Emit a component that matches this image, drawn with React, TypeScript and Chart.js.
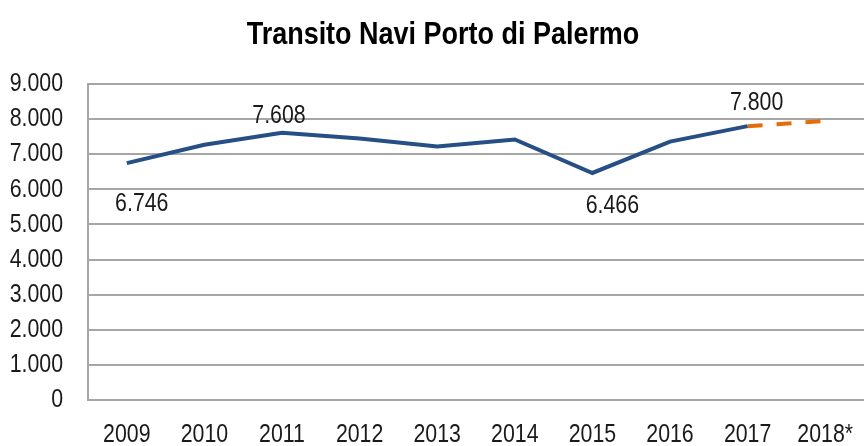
import React, { useEffect, useRef } from "react";
import { Chart, registerables } from "chart.js";

Chart.register(...registerables);

const categories = ["2009", "2010", "2011", "2012", "2013", "2014", "2015", "2016", "2017", "2018*"];
const actualValues = [6746, 7270, 7608, 7450, 7220, 7420, 6466, 7360, 7800, null];
const forecastValues = [null, null, null, null, null, null, null, null, 7800, 7945];
const yTicks = [0, 1000, 2000, 3000, 4000, 5000, 6000, 7000, 8000, 9000];
const titleText = "Transito Navi Porto di Palermo";
const labelIndices = [0, 2, 6, 8];
const labelOffsets = [
  [15, 41],
  [-3, -17],
  [20, 33],
  [9, -23],
];

const FONT = "'Liberation Sans', Arial, sans-serif";
const NARROW = 0.82;
const TITLE_NARROW = 0.87;
const TEXT_COLOR = "#1a1a1a";

const fmt = (v: number) => v.toLocaleString("de-DE");

function drawNarrow(ctx: CanvasRenderingContext2D, text: string, x: number, y: number, align: CanvasTextAlign, font: string, color: string, sx: number = NARROW) {
  ctx.save();
  ctx.translate(x, y);
  ctx.scale(sx, 1);
  ctx.font = font;
  ctx.fillStyle = color;
  ctx.textAlign = align;
  ctx.textBaseline = "middle";
  ctx.fillText(text, 0, 0);
  ctx.restore();
}

const textPlugin = {
  id: "narrowText",
  afterDraw(chart: any) {
    const ctx = chart.ctx as CanvasRenderingContext2D;
    const yScale = chart.scales.y;
    const xScale = chart.scales.x;
    const area = chart.chartArea;
    // title
    drawNarrow(ctx, titleText, 443, 35, "center", `bold 31px ${FONT}`, "#000", TITLE_NARROW);
    // y tick labels
    yTicks.forEach((v) => {
      drawNarrow(ctx, fmt(v), area.left - 25, yScale.getPixelForValue(v), "right", `26px ${FONT}`, TEXT_COLOR);
    });
    // x tick labels
    categories.forEach((c, i) => {
      drawNarrow(ctx, c, xScale.getPixelForValue(i), area.bottom + 35, "center", `26px ${FONT}`, TEXT_COLOR);
    });
    // data labels
    const meta = chart.getDatasetMeta(0);
    labelIndices.forEach((idx, i) => {
      const pt = meta.data[idx];
      const v = actualValues[idx] as number;
      drawNarrow(ctx, fmt(v), pt.x + labelOffsets[i][0], pt.y + labelOffsets[i][1], "center", `26px ${FONT}`, TEXT_COLOR);
    });
  },
};

export default function App() {
  const ref = useRef<HTMLCanvasElement>(null);
  useEffect(() => {
    document.body.style.margin = "0";
    const chart = new Chart(ref.current!, {
      type: "line",
      data: {
        labels: categories,
        datasets: [
          {
            data: actualValues,
            borderColor: "#254f85",
            borderWidth: 4,
            pointRadius: 0,
            tension: 0,
            spanGaps: false,
          },
          {
            data: forecastValues,
            borderColor: "#e46c0a",
            borderWidth: 4,
            borderDash: [15, 14],
            pointRadius: 0,
            tension: 0,
          },
        ],
      },
      options: {
        animation: false,
        responsive: false,
        layout: { padding: { left: 0, right: 0, top: 84, bottom: 46 } },
        plugins: {
          legend: { display: false },
          tooltip: { enabled: false },
          title: { display: false },
        },
        scales: {
          x: {
            offset: true,
            grid: { display: false, drawTicks: false },
            border: { display: false },
            ticks: { display: false },
          },
          y: {
            min: 0,
            max: 9000,
            ticks: { display: false, stepSize: 1000, autoSkip: false },
            afterFit(axis: any) {
              axis.width = 88;
            },
            grid: { color: "#a6a6a6", lineWidth: 2, drawTicks: false },
            border: { display: true, color: "#a6a6a6", width: 2 },
          },
        },
      },
      plugins: [textPlugin],
    });
    return () => chart.destroy();
  }, []);
  return (
    <div style={{ position: "absolute", left: 0, top: 0, width: 864, height: 446 }}>
      <canvas ref={ref} width={864} height={446} />
    </div>
  );
}
